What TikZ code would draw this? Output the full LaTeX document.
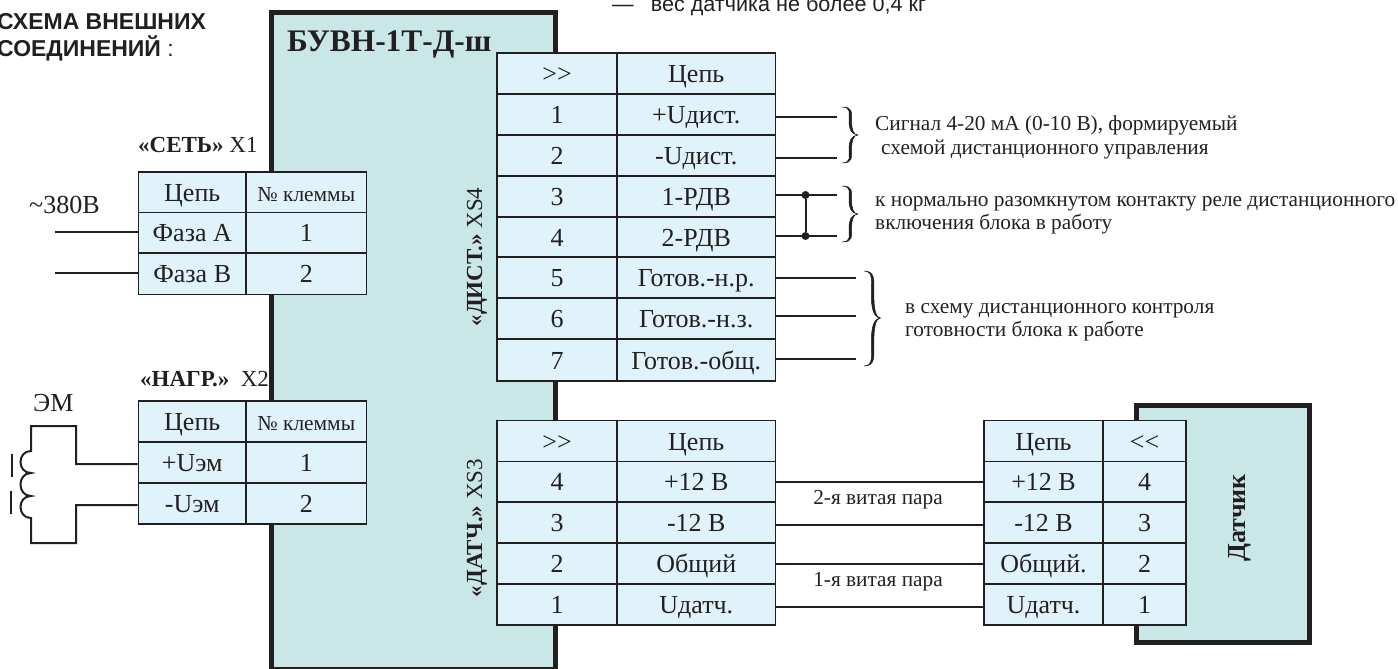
\documentclass[tikz,border=0pt]{standalone}
\usepackage{fontspec}
\setmainfont{Liberation Serif}
\newfontfamily\arialf{Liberation Sans}
\definecolor{ink}{HTML}{231F20}
\definecolor{boxfill}{HTML}{C9E7E6}
\definecolor{cellfill}{HTML}{E0F3FB}
\tikzset{
  cellst/.style={draw=ink,fill=cellfill,line width=1.7pt,inner sep=0pt,text=ink,text height=19pt,text depth=1pt,font=\fontsize{26}{28}\selectfont},
  smallcell/.style={font=\fontsize{21.4}{24}\selectfont},
  bigbox/.style={draw=ink,fill=boxfill,line width=5pt,inner sep=0pt},
  wire/.style={draw=ink,line width=2pt},
  note/.style={anchor=base west,inner sep=0pt,text=ink,font=\fontsize{21.3}{24}\selectfont},
  conn/.style={anchor=base west,inner sep=0pt,text=ink,font=\fontsize{23}{25}\selectfont},
  rot/.style={rotate=90,inner sep=0pt,text=ink,font=\fontsize{23}{25}\selectfont},
  twist/.style={inner sep=0pt,text=ink,font=\fontsize{21.3}{24}\selectfont},
  titl/.style={anchor=base west,inner sep=0pt,text=ink,font=\arialf\fontsize{23}{25}\selectfont},
  jdot/.style={circle,fill=ink,inner sep=0pt,minimum size=8pt},
}
\newcommand\tcell[7][]{\node[cellst,#1,minimum width={(#5-#3)*1pt},minimum height={(#6-#4)*1pt}] (#2) at ({(#3+#5)/2},{(#4+#6)/2}) {#7};}
% brace with tapered arms: x left, y top, y mid, y bottom, width
\newcommand\cbrace[5]{%
  \pgfmathsetmacro\bxA{#1+0.52*#5}%
  \pgfmathsetmacro\bxR{\bxA+1.3}%
  \pgfmathsetmacro\bxL{\bxA-1.3}%
  \pgfmathsetmacro\bxT{#1+#5}%
  \pgfmathsetmacro\bhA{#3-#2}%
  \pgfmathsetmacro\bhB{#4-#3}%
  \filldraw[ink,line width=0.5pt,line join=round] (#1,#2)
    .. controls ({\bxA+3},#2) and (\bxR,{#2+0.2*\bhA}) .. (\bxR,{#2+0.5*\bhA})
    .. controls (\bxR,{#3-0.2*\bhA}) and ({\bxA+3},#3) .. (\bxT,#3)
    .. controls ({\bxA+3},#3) and (\bxR,{#3+0.2*\bhB}) .. (\bxR,{#3+0.5*\bhB})
    .. controls (\bxR,{#4-0.2*\bhB}) and ({\bxA+3},#4) .. (#1,#4)
    .. controls ({\bxA+1},{#4-0.5}) and (\bxL,{#4-0.2*\bhB}) .. (\bxL,{#3+0.5*\bhB})
    .. controls (\bxL,{#3+0.2*\bhB}) and ({\bxA+1},{#3+0.5}) .. (\bxT,#3)
    .. controls ({\bxA+1},{#3-0.5}) and (\bxL,{#3-0.2*\bhA}) .. (\bxL,{#2+0.5*\bhA})
    .. controls (\bxL,{#2+0.2*\bhA}) and ({\bxA+1},{#2+0.5}) .. (#1,#2) -- cycle;}
\begin{document}
\begin{tikzpicture}[x=1pt,y=-1pt]
\useasboundingbox (0,0) rectangle (1398,669);
\clip (0,0) rectangle (1398,669);
% title
\node[titl] (t1) at (-3,30) {\textbf{СХЕМА ВНЕШНИХ}};
\node[titl] (t2) at (-3,57) {\textbf{СОЕДИНЕНИЙ} :};
\node[anchor=base west,inner sep=0pt,text=ink,font=\arialf\fontsize{21.6}{24}\selectfont] (top) at (612,12) {—\hspace{17pt}вес датчика не более 0,4 кг};
% connector labels behind the block
\node[conn] (lset) at (138,152) {\textbf{«СЕТЬ»} X1};
\node[conn] (lnag) at (140,386) {\textbf{«НАГР.»}\ \ X2};
% main block
\node[bigbox,minimum width=284pt,minimum height=657pt] (bu) at (413.5,341) {};
\node[anchor=base west,inner sep=0pt,text=ink,font=\bfseries\fontsize{31.4}{33}\selectfont] (bun) at (287,52) {БУВН-1Т-Д-ш};
\node[rot] (lxs4) at (477,257) {\textbf{«ДИСТ.»} XS4};
\node[rot] (lxs3) at (477,528) {\textbf{«ДАТЧ.»} XS3};
% sensor block
\node[bigbox,minimum width=173pt,minimum height=237pt] (dat) at (1223,524) {};
\node[rot,font=\bfseries\fontsize{26}{28}\selectfont] (datn) at (1240,518) {Датчик};
% X1
\tcell{a00}{138.5}{172}{246}{212.5}{Цепь}
\tcell[smallcell]{a01}{246}{172}{366.5}{212.5}{№ клеммы}
\tcell{a10}{138.5}{212.5}{246}{253}{Фаза А}
\tcell{a11}{246}{212.5}{366.5}{253}{1}
\tcell{a20}{138.5}{253}{246}{294.5}{Фаза В}
\tcell{a21}{246}{253}{366.5}{294.5}{2}
% X2
\tcell{b00}{138.5}{401}{246}{442}{Цепь}
\tcell[smallcell]{b01}{246}{401}{366.5}{442}{№ клеммы}
\tcell{b10}{138.5}{442}{246}{483}{+Uэм}
\tcell{b11}{246}{442}{366.5}{483}{1}
\tcell{b20}{138.5}{483}{246}{524}{-Uэм}
\tcell{b21}{246}{483}{366.5}{524}{2}
% XS4
\tcell{c00}{497}{53}{617}{94}{>{}>}
\tcell{c01}{617}{53}{775.5}{94}{Цепь}
\tcell{c10}{497}{94}{617}{135}{1}
\tcell{c11}{617}{94}{775.5}{135}{+Uдист.}
\tcell{c20}{497}{135}{617}{176}{2}
\tcell{c21}{617}{135}{775.5}{176}{-Uдист.}
\tcell{c30}{497}{176}{617}{217}{3}
\tcell{c31}{617}{176}{775.5}{217}{1-РДВ}
\tcell{c40}{497}{217}{617}{257}{4}
\tcell{c41}{617}{217}{775.5}{257}{2-РДВ}
\tcell{c50}{497}{257}{617}{298}{5}
\tcell{c51}{617}{257}{775.5}{298}{Готов.-н.р.}
\tcell{c60}{497}{298}{617}{339}{6}
\tcell{c61}{617}{298}{775.5}{339}{Готов.-н.з.}
\tcell{c70}{497}{339}{617}{381}{7}
\tcell{c71}{617}{339}{775.5}{381}{Готов.-общ.}
% XS3
\tcell{d00}{497}{420.5}{617}{461.5}{>{}>}
\tcell{d01}{617}{420.5}{775.5}{461.5}{Цепь}
\tcell{d10}{497}{461.5}{617}{502}{4}
\tcell{d11}{617}{461.5}{775.5}{502}{+12 В}
\tcell{d20}{497}{502}{617}{543}{3}
\tcell{d21}{617}{502}{775.5}{543}{-12 В}
\tcell{d30}{497}{543}{617}{584}{2}
\tcell{d31}{617}{543}{775.5}{584}{Общий}
\tcell{d40}{497}{584}{617}{625}{1}
\tcell{d41}{617}{584}{775.5}{625}{Uдатч.}
% sensor table
\tcell{e00}{984}{420.5}{1103}{461.5}{Цепь}
\tcell{e01}{1103}{420.5}{1186}{461.5}{<{}<}
\tcell{e10}{984}{461.5}{1103}{502}{+12 В}
\tcell{e11}{1103}{461.5}{1186}{502}{4}
\tcell{e20}{984}{502}{1103}{543}{-12 В}
\tcell{e21}{1103}{502}{1186}{543}{3}
\tcell{e30}{984}{543}{1103}{584}{Общий.}
\tcell{e31}{1103}{543}{1186}{584}{2}
\tcell{e40}{984}{584}{1103}{625}{Uдатч.}
\tcell{e41}{1103}{584}{1186}{625}{1}
% mains wires
\coordinate (w1) at (55,232);
\coordinate (w2) at (55,273);
\draw[wire] (w1) -- (w1 -| a10.west);
\draw[wire] (w2) -- (w2 -| a20.west);
\node[conn,font=\fontsize{26}{28}\selectfont] (v380) at (29,213) {\char"007E 380В};
% electromagnet
\node[conn,font=\fontsize{26}{28}\selectfont] (em) at (33,411) {ЭМ};
\coordinate (m1) at (76,464);
\coordinate (m2) at (76,505);
\coordinate (m3) at (31,451);
\coordinate (m4) at (31,518);
\draw[wire] (b10.west |- m1) -- (m1) -- (76,426) -- (31,426) -- (m3)
  .. controls (17,451) and (17,473) .. (31,473)
  .. controls (17,473) and (17,496) .. (31,496)
  .. controls (17,496) and (17,518) .. (m4)
  -- (31,543) -- (76,543) -- (m2) -- (b20.west |- m2);
\coordinate (bar1a) at (12,454); \coordinate (bar1b) at (12,477);
\coordinate (bar2a) at (11,491); \coordinate (bar2b) at (11,514);
\draw[wire] (bar1a) -- (bar1b);
\draw[wire] (bar2a) -- (bar2b);
% remote wires
\coordinate (f1) at (837,117);
\coordinate (f2) at (837,158);
\coordinate (f3) at (837,195);
\coordinate (f4) at (837,236);
\coordinate (f5) at (856,278);
\coordinate (f6) at (856,316);
\coordinate (f7) at (856,359);
\draw[wire] (c11.east |- f1) -- (f1);
\draw[wire] (c21.east |- f2) -- (f2);
\draw[wire] (c31.east |- f3) -- (f3);
\draw[wire] (c41.east |- f4) -- (f4);
\draw[wire] (c51.east |- f5) -- (f5);
\draw[wire] (c61.east |- f6) -- (f6);
\draw[wire] (c71.east |- f7) -- (f7);
\node[jdot] (j1) at (805.5,195) {};
\node[jdot] (j2) at (805.5,236) {};
\draw[wire] (j1) -- (j2);
\cbrace{842}{107}{135}{163}{16}
\cbrace{842}{186}{214}{242}{16}
\cbrace{864}{271}{318}{366}{16.5}
\node[note] (n1) at (875,130) {Сигнал 4-20 мА (0-10 В), формируемый};
\node[note] (n2) at (881,154) {схемой дистанционного управления};
\node[note] (n3) at (875,206) {к нормально разомкнутом контакту реле дистанционного};
\node[note] (n4) at (875,229) {включения блока в работу};
\node[note] (n5) at (905,313) {в схему дистанционного контроля};
\node[note] (n6) at (905,336) {готовности блока к работе};
% sensor wires
\draw[wire] (d11.east) -- (e10.west);
\draw[wire] ([yshift=-2pt]d21.east) -- ([yshift=-2pt]e20.west);
\draw[wire] (d31.east) -- (e30.west);
\draw[wire] ([yshift=-2.5pt]d41.east) -- ([yshift=-2.5pt]e40.west);
\node[twist] (p2) at (878,500) {2-я витая пара};
\node[twist] (p1) at (878,582) {1-я витая пара};
\end{tikzpicture}
\end{document}
